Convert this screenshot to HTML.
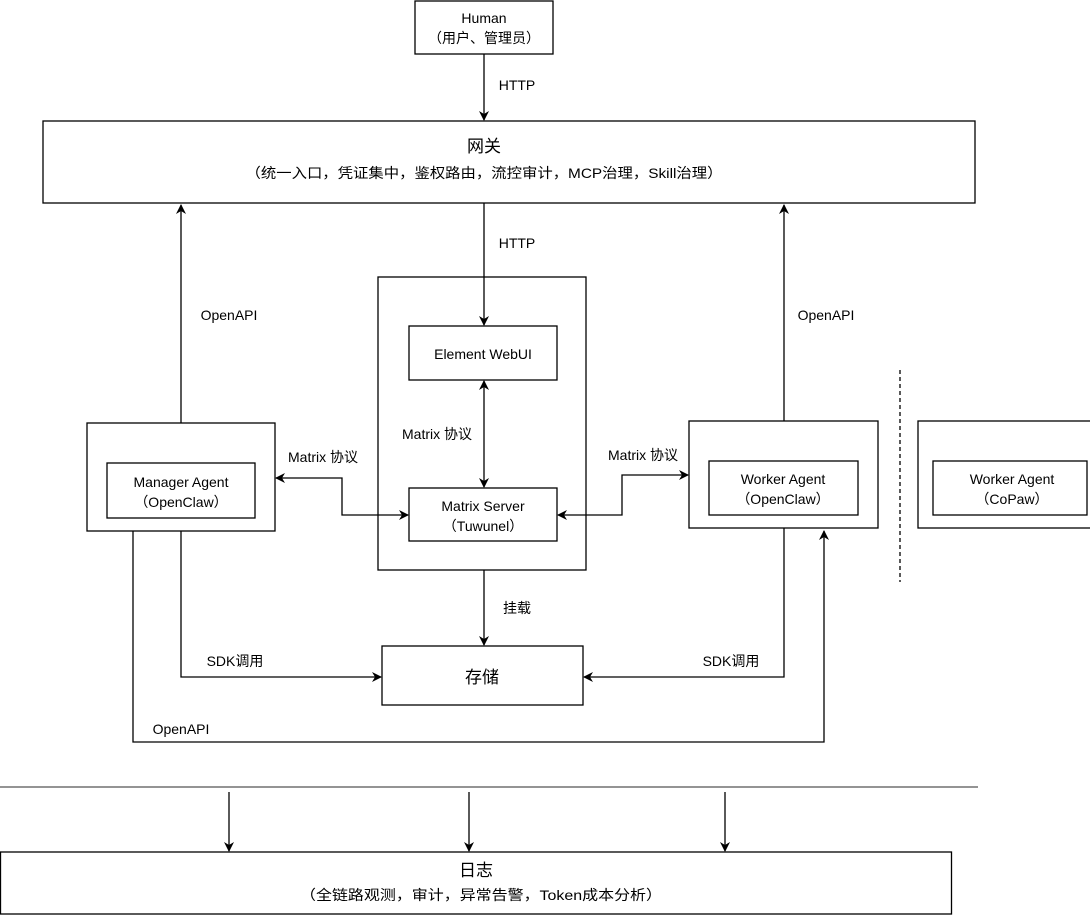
<!DOCTYPE html>
<html><head><meta charset="utf-8"><style>
html,body{margin:0;padding:0;background:#fff;}
svg{display:block;}
text{font-family:"Liberation Sans","Noto Sans CJK SC",sans-serif;fill:#000;}
</style></head><body>
<svg width="1090" height="916" viewBox="0 0 1090 916" xmlns="http://www.w3.org/2000/svg">
<defs>
<marker id="a" viewBox="0 0 10 10" refX="9" refY="5" markerWidth="10" markerHeight="10" orient="auto-start-reverse" markerUnits="userSpaceOnUse"><path d="M0,0 L10,5 L0,10 L3,5 z" fill="#000"/></marker>
</defs>
<g fill="none" stroke="#000" stroke-width="1.3">
<rect x="415" y="1" width="138" height="53"/>
<rect x="43" y="121" width="932" height="82"/>
<rect x="378" y="277" width="208" height="293"/>
<rect x="409" y="326" width="148" height="54"/>
<rect x="409" y="488" width="148" height="53"/>
<rect x="87" y="423" width="188" height="108"/>
<rect x="107" y="463" width="148" height="55"/>
<rect x="689" y="421" width="189" height="107"/>
<rect x="709" y="461" width="149" height="54"/>
<rect x="918" y="421" width="180" height="107"/>
<rect x="933" y="461" width="154" height="54"/>
<rect x="382" y="646" width="201" height="59"/>
<rect x="0.5" y="852" width="951" height="62"/>
<line x1="484" y1="54" x2="484" y2="120" marker-end="url(#a)"/>
<line x1="484" y1="203" x2="484" y2="325" marker-end="url(#a)"/>
<line x1="484" y1="381" x2="484" y2="487" marker-start="url(#a)" marker-end="url(#a)"/>
<line x1="181" y1="423" x2="181" y2="205" marker-end="url(#a)"/>
<line x1="784" y1="421" x2="784" y2="205" marker-end="url(#a)"/>
<polyline points="276,478 342,478 342,515 408,515" marker-start="url(#a)" marker-end="url(#a)"/>
<polyline points="558,515 622,515 622,475 688,475" marker-start="url(#a)" marker-end="url(#a)"/>
<line x1="484" y1="570" x2="484" y2="645" marker-end="url(#a)"/>
<polyline points="181,531 181,677 381,677" marker-end="url(#a)"/>
<polyline points="784,528 784,677 584,677" marker-end="url(#a)"/>
<polyline points="133,531 133,742 824,742 824,531" marker-end="url(#a)"/>
<line x1="900" y1="370" x2="900" y2="582" stroke-dasharray="4,3"/>
<line x1="0" y1="787" x2="978" y2="787" stroke="#555"/>
<line x1="229" y1="792" x2="229" y2="851" marker-end="url(#a)"/>
<line x1="469" y1="792" x2="469" y2="851" marker-end="url(#a)"/>
<line x1="725" y1="792" x2="725" y2="851" marker-end="url(#a)"/>
</g>
<g font-size="14" text-anchor="middle">
<text x="484" y="23">Human</text>
<text x="484" y="43">（用户、管理员）</text>
<text x="517" y="90">HTTP</text>
<text x="484" y="152" font-size="17">网关</text>
<text x="484" y="178" textLength="477" lengthAdjust="spacingAndGlyphs">（统一入口，凭证集中，鉴权路由，流控审计，MCP治理，Skill治理）</text>
<text x="517" y="248">HTTP</text>
<text x="229" y="320">OpenAPI</text>
<text x="826" y="320">OpenAPI</text>
<text x="483" y="359">Element WebUI</text>
<text x="437" y="439">Matrix 协议</text>
<text x="323" y="462">Matrix 协议</text>
<text x="643" y="460">Matrix 协议</text>
<text x="181" y="487">Manager Agent</text>
<text x="181" y="507">（OpenClaw）</text>
<text x="483" y="511">Matrix Server</text>
<text x="483" y="531">（Tuwunel）</text>
<text x="783" y="484">Worker Agent</text>
<text x="783" y="504">（OpenClaw）</text>
<text x="1012" y="484">Worker Agent</text>
<text x="1012" y="504">（CoPaw）</text>
<text x="517" y="613">挂载</text>
<text x="235" y="666">SDK调用</text>
<text x="731" y="666">SDK调用</text>
<text x="482" y="683" font-size="17">存储</text>
<text x="181" y="734">OpenAPI</text>
<text x="476" y="876" font-size="17">日志</text>
<text x="481" y="900" textLength="362" lengthAdjust="spacingAndGlyphs">（全链路观测，审计，异常告警，Token成本分析）</text>
</g>
</svg>
</body></html>
